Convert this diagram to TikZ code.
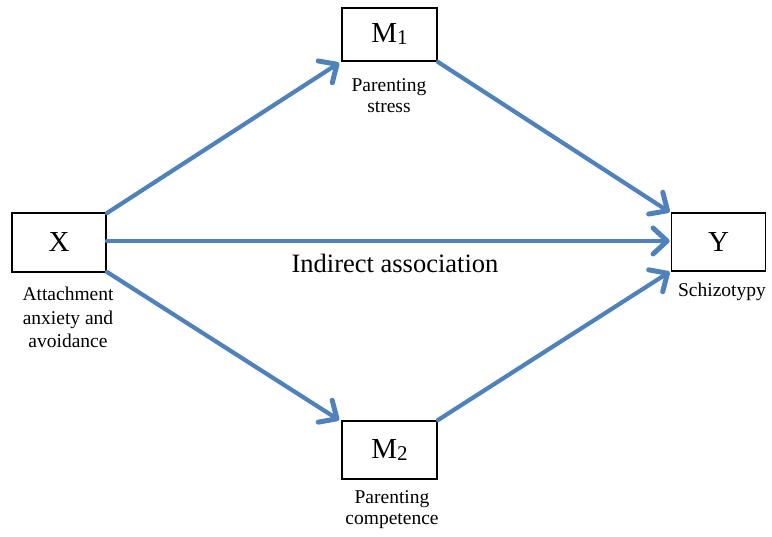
\documentclass[tikz,border=0pt]{standalone}
\usepackage{fontspec}
\setmainfont{Liberation Serif}
\usetikzlibrary{arrows.meta}
\definecolor{arrowblue}{RGB}{79,129,189}
\newcommand{\subidx}[1]{\raisebox{-0.15ex}{\fontsize{21}{21}\selectfont #1}}
\begin{document}
\begin{tikzpicture}[x=1pt,y=-1pt,
  box/.style={draw=black, line width=1.8pt, minimum width=94pt, inner sep=0pt,
              font=\fontsize{29}{29}\selectfont},
  lab/.style={align=center, inner sep=0pt, anchor=north,
              font=\fontsize{19.5}{23.5}\selectfont},
  conn/.style={draw=arrowblue, line width=4.2pt, line cap=round,
               -{Straight Barb[length=14pt,width=26pt,line width=5pt,round]}}]
\useasboundingbox (0,0) rectangle (772,537);
% boxes
\node[box, minimum height=59pt] (X)  at (59,242.5) {X};
\node[box, minimum height=58pt] (Y)  at (718.5,242) {Y};
\node[box, minimum height=53pt, minimum width=95pt] (M1) at (389.5,34.5) {M\subidx{1}};
\node[box, minimum height=58pt, minimum width=95pt] (M2) at (389.5,450) {M\subidx{2}};
% labels
\node[lab] (lx) at (68,287) {Attachment\\anxiety and\\avoidance};
\node[lab, font=\fontsize{19.5}{21.5}\selectfont] (lm1) at (389,78) {Parenting\\stress};
\node[lab] (ly) at (722,283) {Schizotypy};
\node[lab, font=\fontsize{19.5}{21.5}\selectfont] (lm2) at (392,490) {Parenting\\competence};
\node[anchor=base, inner sep=0pt, font=\fontsize{26.5}{26.5}\selectfont] (ind) at (395,273) {Indirect association};
% connectors
\draw[conn] ([yshift=-1pt]X.north east) -- ([xshift=-2pt,yshift=-1pt]M1.south west);
\draw[conn] (M1.south east) -- ([xshift=-1pt]Y.north west);
\draw[conn] ([yshift=1.5pt]X.east) -- ([xshift=-1pt,yshift=1pt]Y.west);
\draw[conn] ([yshift=1pt]X.south east) -- ([xshift=-2pt]M2.north west);
\draw[conn] (M2.north east) -- ([xshift=-1pt]Y.south west);
\end{tikzpicture}
\end{document}
